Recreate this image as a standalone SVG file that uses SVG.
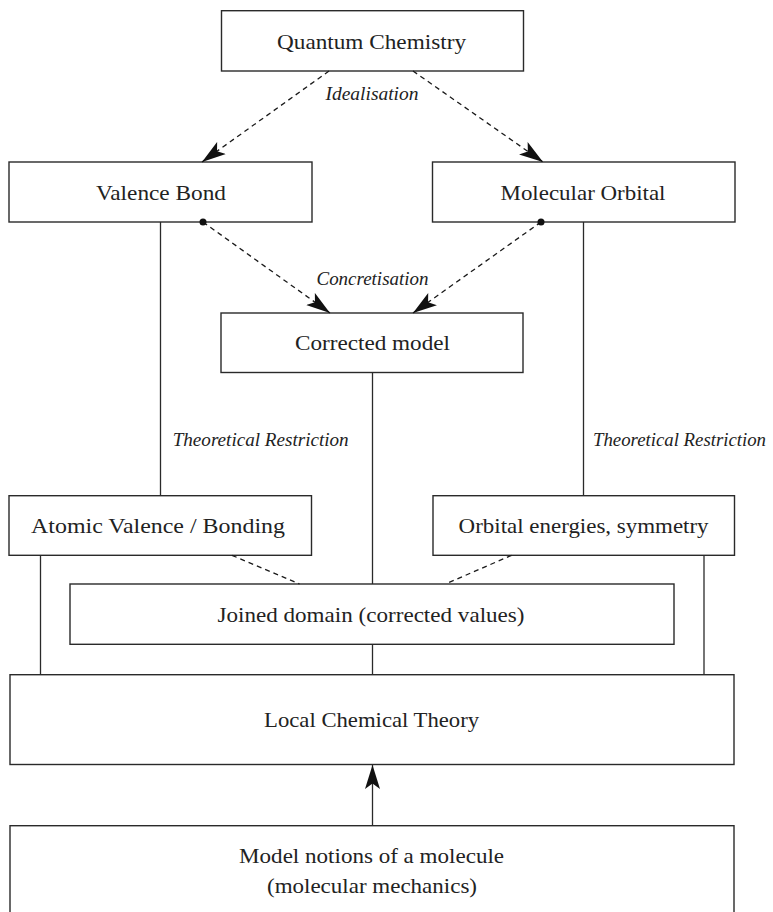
<svg xmlns="http://www.w3.org/2000/svg" width="773" height="912" viewBox="0 0 773 912">
  <style>
    .box { fill: #ffffff; stroke: #2a2a2a; stroke-width: 1.4; }
    .lbl { font-family: "Liberation Serif", "Times New Roman", serif; font-size: 22px; fill: #222222; text-anchor: middle; }
    .ital { font-family: "Liberation Serif", "Times New Roman", serif; font-size: 19px; font-style: italic; fill: #222222; }
    .solid { fill: none; stroke: #2a2a2a; stroke-width: 1.3; }
    .dash { fill: none; stroke: #1a1a1a; stroke-width: 1.3; stroke-dasharray: 5 4; }
    .dot { fill: #111111; }
  </style>
  <defs>
    <marker id="ah" viewBox="0 0 24 16" markerWidth="24" markerHeight="16" refX="24" refY="8" orient="auto" markerUnits="userSpaceOnUse">
      <path d="M24,8 L0,0.5 L5.5,8 L0,15.5 Z" fill="#111111"/>
    </marker>
  </defs>

  <rect x="0" y="0" width="773" height="912" fill="#ffffff"/>

  <g id="quantum-chemistry">
    <rect class="box" x="221.5" y="10.7" width="302" height="60.3"/>
    <text class="lbl" x="371.5" y="48.5" textLength="189" lengthAdjust="spacingAndGlyphs">Quantum Chemistry</text>
  </g>
  <g id="valence-bond">
    <rect class="box" x="9" y="162" width="303" height="60"/>
    <text class="lbl" x="161" y="199.5" textLength="130" lengthAdjust="spacingAndGlyphs">Valence Bond</text>
  </g>
  <g id="molecular-orbital">
    <rect class="box" x="432.5" y="162" width="302.5" height="60"/>
    <text class="lbl" x="583" y="199.5" textLength="165" lengthAdjust="spacingAndGlyphs">Molecular Orbital</text>
  </g>
  <g id="corrected-model">
    <rect class="box" x="221" y="313" width="302" height="59.5"/>
    <text class="lbl" x="372.5" y="350" textLength="155" lengthAdjust="spacingAndGlyphs">Corrected model</text>
  </g>
  <g id="atomic-valence">
    <rect class="box" x="9" y="495.7" width="302.5" height="59.6"/>
    <text class="lbl" x="158" y="533" textLength="254" lengthAdjust="spacingAndGlyphs">Atomic Valence / Bonding</text>
  </g>
  <g id="orbital-energies">
    <rect class="box" x="433" y="495.7" width="301.5" height="59.6"/>
    <text class="lbl" x="583.6" y="533" textLength="250" lengthAdjust="spacingAndGlyphs">Orbital energies, symmetry</text>
  </g>
  <g id="joined-domain">
    <rect class="box" x="70" y="584" width="604" height="60.3"/>
    <text class="lbl" x="371" y="621.5" textLength="307" lengthAdjust="spacingAndGlyphs">Joined domain (corrected values)</text>
  </g>
  <g id="local-chemical-theory">
    <rect class="box" x="10" y="674.7" width="724" height="89.8"/>
    <text class="lbl" x="371.6" y="727" textLength="215" lengthAdjust="spacingAndGlyphs">Local Chemical Theory</text>
  </g>
  <g id="model-notions">
    <rect class="box" x="10" y="825.7" width="724" height="100"/>
    <text class="lbl" x="371.6" y="862.7" textLength="265" lengthAdjust="spacingAndGlyphs">Model notions of a molecule</text>
    <text class="lbl" x="372" y="892.5" textLength="210" lengthAdjust="spacingAndGlyphs">(molecular mechanics)</text>
  </g>

  <g id="connectors">
    <!-- Idealisation -->
    <line class="dash" x1="329" y1="71" x2="202" y2="162" marker-end="url(#ah)"/>
    <line class="dash" x1="413" y1="71" x2="543" y2="162" marker-end="url(#ah)"/>
    <!-- Concretisation -->
    <line class="dash" x1="203" y1="222" x2="330" y2="313" marker-end="url(#ah)"/>
    <line class="dash" x1="541" y1="222" x2="413" y2="313" marker-end="url(#ah)"/>
    <circle class="dot" cx="203" cy="222" r="3.5"/>
    <circle class="dot" cx="541" cy="222" r="3.5"/>
    <!-- Theoretical restriction lines -->
    <line class="solid" x1="160.5" y1="222" x2="160.5" y2="496"/>
    <line class="solid" x1="583.5" y1="222" x2="583.5" y2="496"/>
    <!-- Corrected model to joined domain -->
    <line class="solid" x1="372.5" y1="372.5" x2="372.5" y2="584"/>
    <line class="solid" x1="372.5" y1="644.3" x2="372.5" y2="675"/>
    <!-- side lines to Local Chemical Theory -->
    <line class="solid" x1="40.5" y1="555.3" x2="40.5" y2="675"/>
    <line class="solid" x1="704" y1="555.3" x2="704" y2="675"/>
    <!-- dashed to joined domain -->
    <line class="dash" x1="232" y1="555.3" x2="299.5" y2="584"/>
    <line class="dash" x1="511.5" y1="555.3" x2="445.5" y2="584"/>
    <!-- Model notions to Local Chemical Theory -->
    <line class="solid" x1="372.5" y1="826" x2="372.5" y2="765" marker-end="url(#ah)"/>
    <!-- edge labels -->
    <text class="ital" x="372" y="100" text-anchor="middle" textLength="93" lengthAdjust="spacingAndGlyphs">Idealisation</text>
    <text class="ital" x="372.5" y="285" text-anchor="middle" textLength="112" lengthAdjust="spacingAndGlyphs">Concretisation</text>
    <text class="ital" x="172.7" y="446" textLength="176" lengthAdjust="spacingAndGlyphs">Theoretical Restriction</text>
    <text class="ital" x="593" y="446" textLength="173" lengthAdjust="spacingAndGlyphs">Theoretical Restriction</text>
  </g>
</svg>
